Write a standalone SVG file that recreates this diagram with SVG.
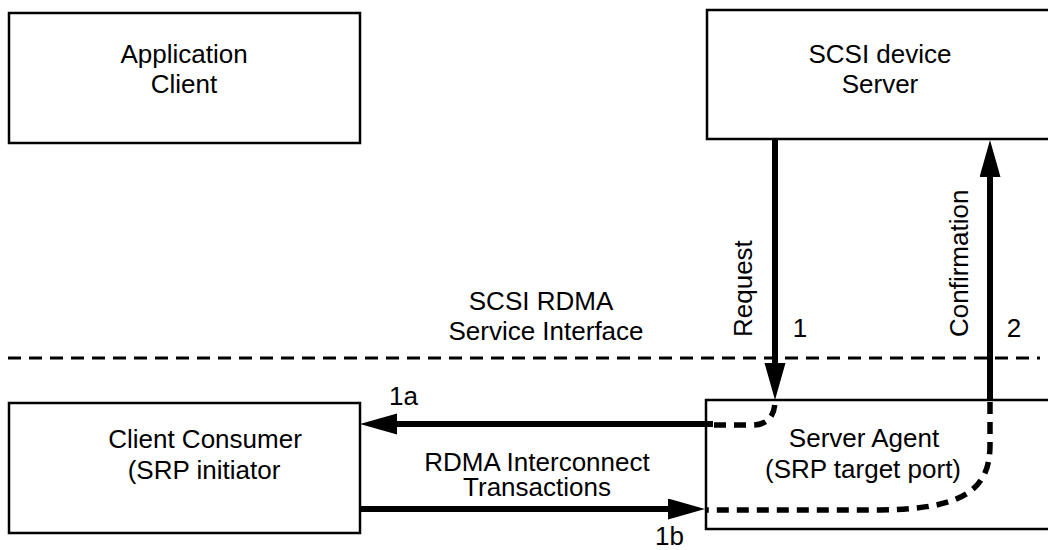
<svg xmlns="http://www.w3.org/2000/svg" width="1048" height="550" viewBox="0 0 1048 550">
<style>
.box{fill:#fff;stroke:#000;stroke-width:2.5}
.t{font-family:"Liberation Sans",Arial,sans-serif;font-size:26px;fill:#000}
.m{text-anchor:middle}
.arr{stroke:#000;stroke-width:6;fill:none}
.dc{stroke:#000;stroke-width:5.5;fill:none;stroke-dasharray:12 8}
.sep{stroke:#000;stroke-width:3;fill:none;stroke-dasharray:13 8}
</style>
<defs>
<marker id="ah" markerUnits="userSpaceOnUse" markerWidth="38" markerHeight="22" refX="7" refY="10.5" orient="auto" viewBox="0 0 38 22">
<path d="M0,0 L37,10.5 L0,21 z" fill="#000"/>
</marker>
</defs>
<g id="app-client">
<rect class="box" x="9" y="13" width="351" height="130"/>
<text class="t m" x="184" y="63">Application</text>
<text class="t m" x="184" y="93">Client</text>
</g>
<g id="scsi-device-server">
<rect class="box" x="707" y="10" width="360" height="129"/>
<text class="t m" x="880" y="63">SCSI device</text>
<text class="t m" x="880" y="93">Server</text>
</g>
<g id="client-consumer">
<rect class="box" x="9" y="403" width="351" height="130"/>
<text class="t m" x="205" y="448">Client Consumer</text>
<text class="t m" x="204" y="479">(SRP initiator</text>
</g>
<g id="server-agent">
<rect class="box" x="706" y="400" width="360" height="129"/>
<text class="t m" x="864" y="447">Server Agent</text>
<text class="t m" x="863" y="478">(SRP target port)</text>
</g>
<g id="interface">
<line class="sep" x1="8" y1="358" x2="1040" y2="358"/>
<text class="t m" x="541" y="310">SCSI RDMA</text>
<text class="t m" x="546" y="340">Service Interface</text>
</g>
<g id="connectors">
<line class="arr" x1="775" y1="139" x2="775" y2="370" marker-end="url(#ah)"/>
<line class="arr" x1="990" y1="400" x2="990" y2="170" marker-end="url(#ah)"/>
<line class="arr" x1="713" y1="424" x2="390" y2="424" marker-end="url(#ah)"/>
<line class="arr" x1="360" y1="509" x2="675" y2="509" marker-end="url(#ah)"/>
<path class="dc" d="M714,425 H752 Q774,425 775,402"/>
<path class="dc" d="M990,402 V445 C990,492 960,509 880,510 H706"/>
<text class="t" transform="translate(752,337) rotate(-90)">Request</text>
<text class="t" transform="translate(968,337) rotate(-90)">Confirmation</text>
<text class="t m" x="800" y="337">1</text>
<text class="t m" x="1014" y="337">2</text>
<text class="t" x="389" y="405">1a</text>
<text class="t" x="655" y="545">1b</text>
<text class="t m" x="537" y="471">RDMA Interconnect</text>
<text class="t m" x="537" y="496">Transactions</text>
</g>
</svg>
